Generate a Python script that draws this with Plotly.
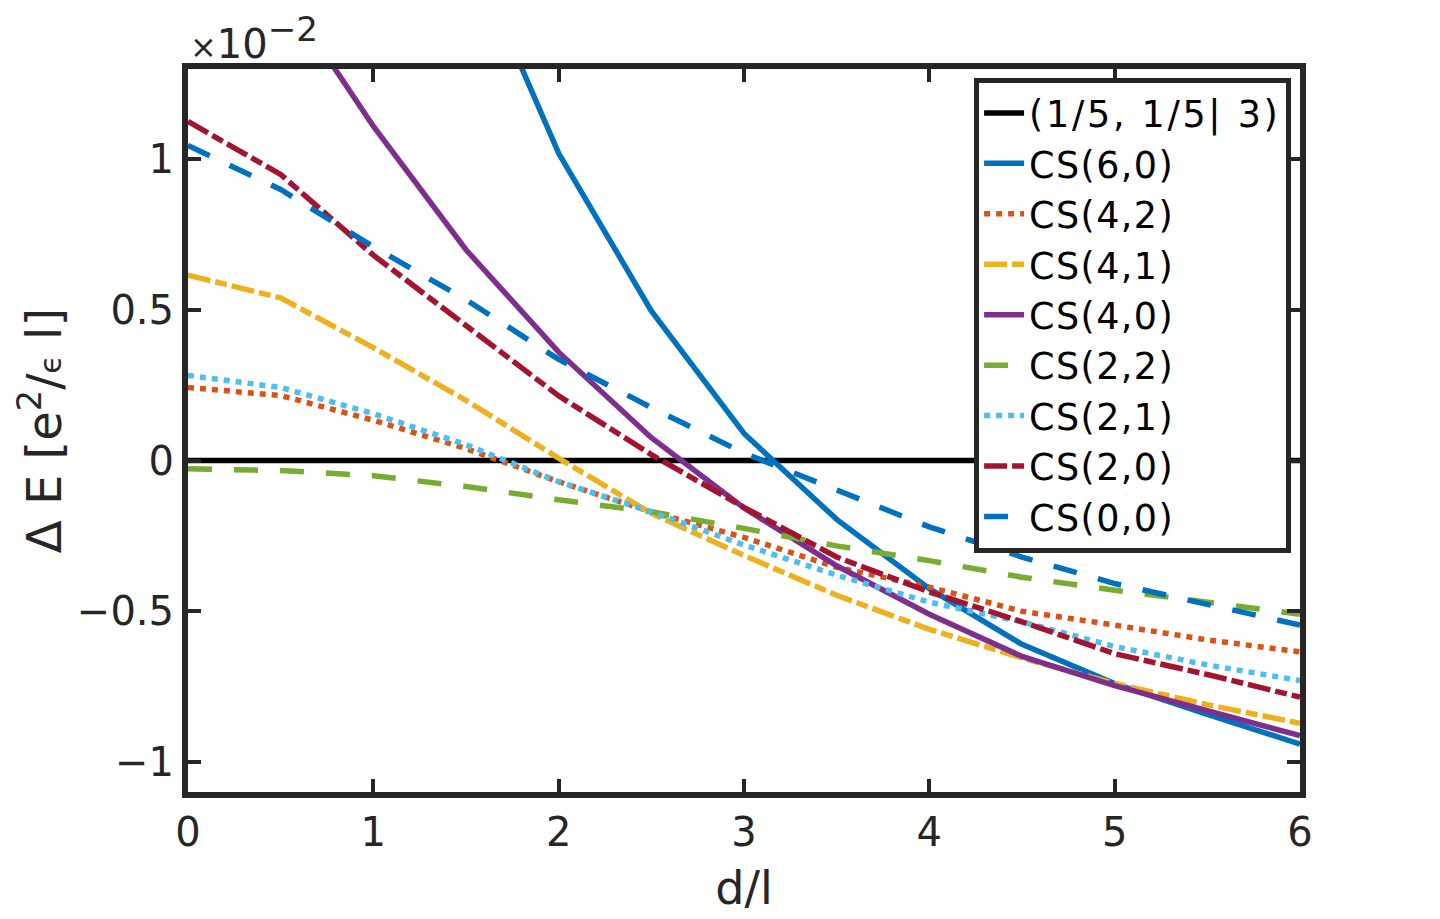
import plotly.graph_objects as go

# x values: d/l
x = [0, 0.5, 1, 1.5, 2, 2.5, 3, 3.5, 4, 4.5, 5, 5.5, 6]

# Delta E in units of 1e-2 e^2/(eps l)
ref_13_15 = [0, 0, 0, 0, 0, 0, 0, 0, 0, 0, 0, 0, 0]
cs_6_0 = [4.2, 3.3, 2.45, 1.73, 1.02, 0.497, 0.09, -0.195, -0.425, -0.61, -0.74, -0.842, -0.941]
cs_4_2 = [0.243, 0.216, 0.134, 0.04, -0.07, -0.17, -0.255, -0.354, -0.42, -0.50, -0.546, -0.595, -0.635]
cs_4_1 = [0.616, 0.54, 0.375, 0.20, 0.008, -0.175, -0.315, -0.447, -0.56, -0.655, -0.74, -0.81, -0.872]
cs_4_0 = [2.1, 1.57, 1.11, 0.70, 0.36, 0.076, -0.157, -0.349, -0.51, -0.65, -0.747, -0.831, -0.913]
cs_2_2 = [-0.027, -0.033, -0.05, -0.086, -0.13, -0.17, -0.225, -0.283, -0.332, -0.387, -0.43, -0.47, -0.51]
cs_2_1 = [0.283, 0.243, 0.156, 0.053, -0.07, -0.17, -0.28, -0.38, -0.47, -0.535, -0.617, -0.678, -0.73]
cs_2_0 = [1.126, 0.95, 0.682, 0.45, 0.215, 0.02, -0.155, -0.32, -0.436, -0.535, -0.641, -0.71, -0.785]
cs_0_0 = [1.046, 0.90, 0.71, 0.534, 0.336, 0.176, 0.025, -0.096, -0.22, -0.32, -0.408, -0.477, -0.546]

names = ["(1/5, 1/5| 3)", "CS(6,0)", "CS(4,2)", "CS(4,1)", "CS(4,0)",
         "CS(2,2)", "CS(2,1)", "CS(2,0)", "CS(0,0)"]
series = [ref_13_15, cs_6_0, cs_4_2, cs_4_1, cs_4_0, cs_2_2, cs_2_1, cs_2_0, cs_0_0]
colors = ["#000000", "#0072BD", "#D95319", "#EDB120", "#7E2F8E",
          "#77AC30", "#4DBEEE", "#A2142F", "#0072BD"]
dashes = ["solid", "solid", "6px,6px", "23px,5px,12px,5px", "solid",
          "24px,22px", "6px,6px", "23px,5px,12px,5px", "24px,22px"]
spacing = [2.7, 1.4, 1.4, 1.4, 1.4, 1.4, 1.4, 1.4, 1.4]

FONT = "DejaVu Sans"
AX = "#262626"

fig = go.Figure()
for nm, ys, c, d, sp in zip(names, series, colors, dashes, spacing):
    fig.add_trace(go.Scatter(
        x=x, y=ys, mode="lines",
        name=f"<span style='letter-spacing:{sp}px'>{nm}</span>",
        line=dict(color=c, width=5.5, dash=d)))

fig.update_layout(
    width=1440, height=919,
    margin=dict(l=188, r=140, t=69, b=121),
    paper_bgcolor="white", plot_bgcolor="white",
    font=dict(family=FONT, size=40, color=AX),
    showlegend=True,
    legend=dict(x=0.992, y=0.988, xanchor="right", yanchor="top",
                bgcolor="white", bordercolor=AX, borderwidth=5,
                font=dict(family=FONT, size=36.5, color="#000000"),
                itemwidth=40, tracegroupgap=0),
    xaxis=dict(range=[0, 6], dtick=1, tick0=0, showgrid=False, zeroline=False,
               showline=True, linewidth=6, linecolor=AX, mirror="ticks",
               ticks="inside", ticklen=13, tickwidth=4, tickcolor=AX,
               title=dict(text="d/l", font=dict(size=46), standoff=20)),
    yaxis=dict(range=[-1.1, 1.3], tickvals=[-1, -0.5, 0, 0.5, 1],
               showgrid=False, zeroline=False,
               showline=True, linewidth=6, linecolor=AX, mirror="ticks",
               ticks="inside", ticklen=13, tickwidth=4, tickcolor=AX,
               title=dict(text="Δ E [e<sup>2</sup>/<span style='font-size:30px'>ϵ</span> l]",
                          font=dict(size=48), standoff=2)),
)

fig.add_annotation(xref="paper", yref="paper", x=0.0, y=1.0,
                   xanchor="left", yanchor="bottom", yshift=0, showarrow=False,
                   text="<span style='font-size:32px'>×</span>10<sup><span style='font-size:34px'>−2</span></sup>",
                   font=dict(family=FONT, size=40, color=AX))

fig.write_html("out.html")
